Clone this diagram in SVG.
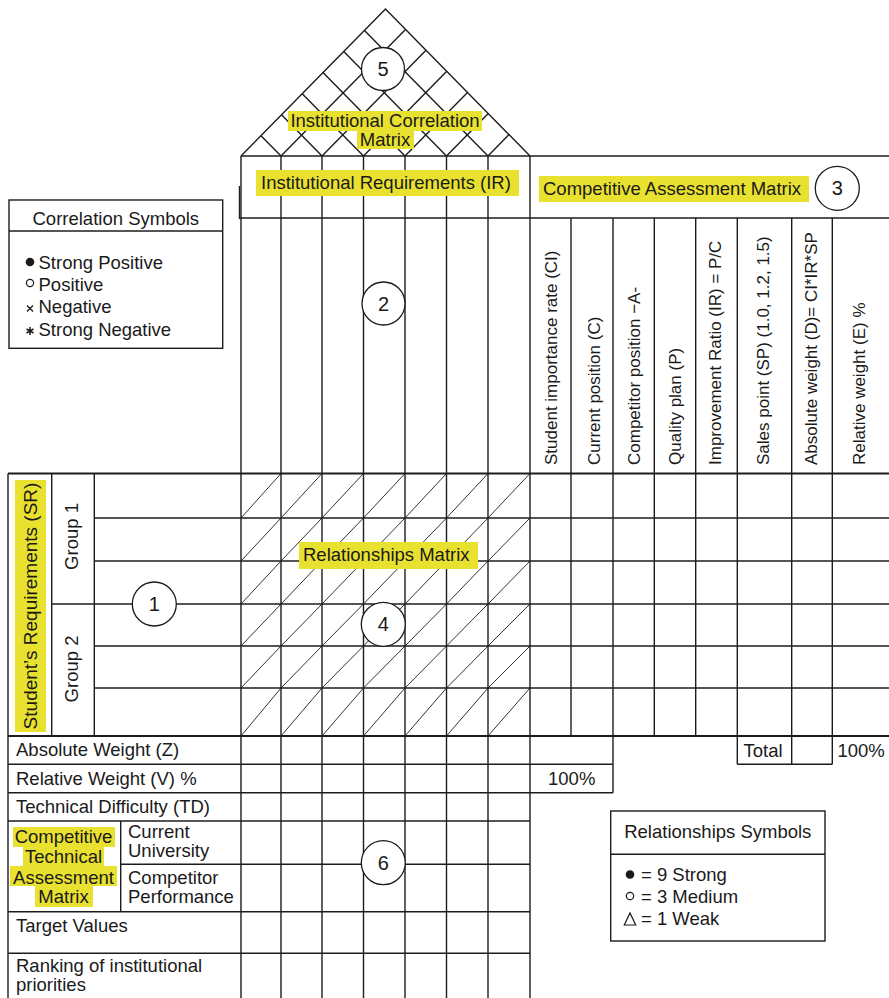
<svg xmlns="http://www.w3.org/2000/svg" width="889" height="998" viewBox="0 0 889 998">
  <style>
    .ln { stroke: #1c1c1c; stroke-width: 1.4; fill: none; }
    .bold { stroke: #1c1c1c; stroke-width: 1.8; fill: none; }
    .thin { stroke: #1c1c1c; stroke-width: 0.9; fill: none; }
    .t { font-family: "Liberation Sans", Arial, Helvetica, sans-serif; font-size: 18.5px; fill: #1a1a1a; }
    .tv { font-size: 17px; }
    .tm { text-anchor: middle; }
    .hl { fill: #E9E12F; }
    .badge circle { fill: #ffffff; stroke: #1c1c1c; stroke-width: 1.3; }
    .badge text { font-family: "Liberation Sans", Arial, Helvetica, sans-serif; font-size: 20px; fill: #1a1a1a; text-anchor: middle; }
  </style>

  <rect width="889" height="998" fill="#ffffff"/>

  <!-- Grid lines of the house -->
  <g id="grid">
    <!-- roof outline and lattice -->
    <path class="ln" d="M241,156 L385.5,9 L530,156"/>
    <g class="ln">
      <line x1="281" y1="156" x2="261" y2="135.7"/>
      <line x1="281" y1="156" x2="405.5" y2="29.4"/>
      <line x1="322" y1="156" x2="281.5" y2="114.8"/>
      <line x1="322" y1="156" x2="426" y2="50.2"/>
      <line x1="363.5" y1="156" x2="302.25" y2="93.7"/>
      <line x1="363.5" y1="156" x2="446.75" y2="71.3"/>
      <line x1="405" y1="156" x2="323" y2="72.6"/>
      <line x1="405" y1="156" x2="467.5" y2="92.4"/>
      <line x1="446.5" y1="156" x2="343.75" y2="51.5"/>
      <line x1="446.5" y1="156" x2="488.25" y2="113.5"/>
      <line x1="488" y1="156" x2="364.5" y2="30.4"/>
      <line x1="488" y1="156" x2="509" y2="134.6"/>
    </g>

    <!-- header band -->
    <line class="ln" x1="241" y1="156" x2="889" y2="156"/>
    <line class="ln" x1="239" y1="218" x2="889" y2="218"/>
    <line class="ln" x1="239.5" y1="186" x2="239.5" y2="219"/>

    <!-- technical requirement columns -->
    <g class="ln">
      <line x1="241" y1="156" x2="241" y2="998"/>
      <line x1="281" y1="156" x2="281" y2="998"/>
      <line x1="322" y1="156" x2="322" y2="998"/>
      <line x1="363.5" y1="156" x2="363.5" y2="998"/>
      <line x1="405" y1="156" x2="405" y2="998"/>
      <line x1="446.5" y1="156" x2="446.5" y2="998"/>
      <line x1="488" y1="156" x2="488" y2="998"/>
      <line x1="530" y1="156" x2="530" y2="998"/>
    </g>

    <!-- competitive assessment columns -->
    <g class="ln">
      <line x1="571" y1="218" x2="571" y2="736"/>
      <line x1="613" y1="218" x2="613" y2="792.7"/>
      <line x1="654.3" y1="218" x2="654.3" y2="736"/>
      <line x1="695.7" y1="218" x2="695.7" y2="736"/>
      <line x1="737.3" y1="218" x2="737.3" y2="764.3"/>
      <line x1="791.7" y1="218" x2="791.7" y2="764.3"/>
      <line x1="832.3" y1="218" x2="832.3" y2="764.3"/>
    </g>

    <!-- requirement rows -->
    <line class="bold" x1="8" y1="473.5" x2="889" y2="473.5"/>
    <g class="ln">
      <line x1="94.3" y1="518" x2="889" y2="518"/>
      <line x1="94.3" y1="561" x2="889" y2="561"/>
      <line x1="51.7" y1="604" x2="889" y2="604"/>
      <line x1="94.3" y1="646" x2="889" y2="646"/>
      <line x1="94.3" y1="688" x2="889" y2="688"/>
      <line x1="8" y1="473.5" x2="8" y2="998"/>
      <line x1="51.7" y1="473.5" x2="51.7" y2="736"/>
      <line x1="94.3" y1="473.5" x2="94.3" y2="736"/>
    </g>
    <line class="bold" x1="8" y1="736" x2="889" y2="736"/>

    <!-- lower rows -->
    <g class="ln">
      <line x1="8" y1="764.3" x2="613" y2="764.3"/>
      <line x1="737.3" y1="764.3" x2="832.3" y2="764.3"/>
      <line x1="8" y1="792.7" x2="613" y2="792.7"/>
      <line x1="8" y1="821" x2="530" y2="821"/>
      <line x1="120.7" y1="864.3" x2="530" y2="864.3"/>
      <line x1="120.7" y1="821" x2="120.7" y2="911.7"/>
      <line x1="8" y1="911.7" x2="530" y2="911.7"/>
      <line x1="8" y1="953.3" x2="530" y2="953.3"/>
    </g>
  </g>

  <!-- Relationships matrix cell diagonals -->
  <g id="relationships-matrix" class="thin">
    <path d="M241,518 L281,473.5 M281,518 L322,473.5 M322,518 L363.5,473.5 M363.5,518 L405,473.5 M405,518 L446.5,473.5 M446.5,518 L488,473.5 M488,518 L530,473.5"/>
    <path d="M241,561 L281,518 M281,561 L322,518 M322,561 L363.5,518 M363.5,561 L405,518 M405,561 L446.5,518 M446.5,561 L488,518 M488,561 L530,518"/>
    <path d="M241,604 L281,561 M281,604 L322,561 M322,604 L363.5,561 M363.5,604 L405,561 M405,604 L446.5,561 M446.5,604 L488,561 M488,604 L530,561"/>
    <path d="M241,646 L281,604 M281,646 L322,604 M322,646 L363.5,604 M363.5,646 L405,604 M405,646 L446.5,604 M446.5,646 L488,604 M488,646 L530,604"/>
    <path d="M241,688 L281,646 M281,688 L322,646 M322,688 L363.5,646 M363.5,688 L405,646 M405,688 L446.5,646 M446.5,688 L488,646 M488,688 L530,646"/>
    <path d="M241,736 L281,688 M281,736 L322,688 M322,736 L363.5,688 M363.5,736 L405,688 M405,736 L446.5,688 M446.5,736 L488,688 M488,736 L530,688"/>
  </g>

  <!-- Roof: institutional correlation matrix -->
  <g id="correlation-matrix">
    <rect class="hl" x="288" y="111" width="194" height="20"/>
    <rect class="hl" x="357" y="131" width="57" height="18"/>
    <text class="t tm" x="385" y="127">Institutional Correlation</text>
    <text class="t tm" x="385" y="146">Matrix</text>
  </g>

  <!-- Institutional requirements header -->
  <g id="institutional-requirements">
    <rect class="hl" x="256" y="170" width="263" height="26"/>
    <text class="t" x="261" y="188.5">Institutional Requirements (IR)</text>
  </g>

  <!-- Competitive assessment header and column titles -->
  <g id="competitive-assessment">
    <rect class="hl" x="539" y="176" width="270" height="26"/>
    <text class="t" x="543" y="194.5">Competitive Assessment Matrix</text>
    <g class="t tv">
      <text transform="translate(556.5,465) rotate(-90)">Student importance rate (CI)</text>
      <text transform="translate(600,465) rotate(-90)">Current position (C)</text>
      <text transform="translate(640,465) rotate(-90)">Competitor position −A-</text>
      <text transform="translate(680.5,465) rotate(-90)">Quality plan (P)</text>
      <text transform="translate(721,465) rotate(-90)">Improvement Ratio (IR) = P/C</text>
      <text transform="translate(768.5,465) rotate(-90)">Sales point (SP) (1.0, 1.2, 1.5)</text>
      <text transform="translate(817,465) rotate(-90)">Absolute weight (D)= CI*IR*SP</text>
      <text transform="translate(865,465) rotate(-90)">Relative weight (E) %</text>
    </g>
    <text class="t" x="743.5" y="756.5">Total</text>
    <text class="t" x="837.5" y="756.5">100%</text>
    <text class="t tm" x="571.7" y="785">100%</text>
  </g>

  <!-- Correlation symbols legend -->
  <g id="correlation-legend">
    <rect class="ln" x="9" y="200" width="213.7" height="148.3" fill="#ffffff"/>
    <line class="ln" x1="9" y1="231" x2="222.7" y2="231"/>
    <text class="t tm" x="115.8" y="225">Correlation Symbols</text>
    <circle cx="30" cy="262" r="4.3" fill="#1a1a1a"/>
    <circle cx="30" cy="283" r="3.6" fill="none" stroke="#1a1a1a" stroke-width="1.2"/>
    <path d="M27,305.5 L33,311.5 M33,305.5 L27,311.5" stroke="#1a1a1a" stroke-width="1.3"/>
    <path d="M30,327 L30,335 M26.5,329 L33.5,333 M33.5,329 L26.5,333" stroke="#1a1a1a" stroke-width="1.5"/>
    <text class="t" x="38.5" y="269">Strong Positive</text>
    <text class="t" x="38.5" y="291">Positive</text>
    <text class="t" x="38.5" y="313">Negative</text>
    <text class="t" x="38.5" y="336">Strong Negative</text>
  </g>

  <!-- Student requirements -->
  <g id="student-requirements">
    <rect class="hl" x="15" y="480" width="31" height="252"/>
    <text class="t tm" style="font-size:19px" transform="translate(36.5,606) rotate(-90)">Student’s Requirements (SR)</text>
    <text class="t tm" transform="translate(78,536.5) rotate(-90)">Group 1</text>
    <text class="t tm" transform="translate(78,669) rotate(-90)">Group 2</text>
  </g>

  <!-- Relationships matrix title -->
  <g id="relationships-title">
    <rect class="hl" x="299" y="542" width="179" height="27"/>
    <text class="t" x="303" y="560.5">Relationships Matrix</text>
  </g>

  <!-- Lower rows -->
  <g id="technical-rows">
    <text class="t" x="16" y="756">Absolute Weight (Z)</text>
    <text class="t" x="16" y="784.5">Relative Weight (V) %</text>
    <text class="t" x="16" y="813">Technical Difficulty (TD)</text>
    <rect class="hl" x="13" y="827" width="102" height="20"/>
    <rect class="hl" x="23" y="847" width="81" height="19"/>
    <rect class="hl" x="10" y="866" width="107" height="20"/>
    <rect class="hl" x="35" y="886" width="58" height="21"/>
    <text class="t tm" x="63.5" y="843">Competitive</text>
    <text class="t tm" x="63.5" y="863">Technical</text>
    <text class="t tm" x="63.5" y="883.5">Assessment</text>
    <text class="t tm" x="63.5" y="903">Matrix</text>
    <text class="t" x="128" y="838">Current</text>
    <text class="t" x="128" y="857">University</text>
    <text class="t" x="128" y="884">Competitor</text>
    <text class="t" x="128" y="903">Performance</text>
    <text class="t" x="16" y="931.5">Target Values</text>
    <text class="t" x="16" y="971.5">Ranking of institutional</text>
    <text class="t" x="16" y="990.5">priorities</text>
  </g>

  <!-- Relationship symbols legend -->
  <g id="relationship-legend">
    <rect class="ln" x="610.7" y="811" width="214.3" height="130" fill="#ffffff"/>
    <line class="ln" x1="610.7" y1="854.3" x2="825" y2="854.3"/>
    <text class="t tm" x="717.8" y="838.3">Relationships Symbols</text>
    <circle cx="630" cy="874.5" r="4.3" fill="#1a1a1a"/>
    <circle cx="630" cy="896" r="3.7" fill="none" stroke="#1a1a1a" stroke-width="1.2"/>
    <path d="M624.3,925 L635.7,925 L630,913 Z" fill="none" stroke="#1a1a1a" stroke-width="1.2"/>
    <text class="t" x="641" y="880.5">= 9 Strong</text>
    <text class="t" x="641" y="902.5">= 3 Medium</text>
    <text class="t" x="641" y="924.5">= 1 Weak</text>
  </g>

  <!-- Numbered section badges -->
  <g id="badge-1" class="badge"><circle cx="154.3" cy="604" r="22"/><text x="154.3" y="611">1</text></g>
  <g id="badge-2" class="badge"><circle cx="383.5" cy="303.5" r="21.5"/><text x="383.5" y="310.5">2</text></g>
  <g id="badge-3" class="badge"><circle cx="837.3" cy="188.3" r="22"/><text x="837.3" y="195.3">3</text></g>
  <g id="badge-4" class="badge"><circle cx="383.3" cy="624.3" r="22"/><text x="383.3" y="631.3">4</text></g>
  <g id="badge-5" class="badge"><circle cx="383" cy="69" r="21.5"/><text x="383" y="76">5</text></g>
  <g id="badge-6" class="badge"><circle cx="383.3" cy="862.7" r="22"/><text x="383.3" y="869.7">6</text></g>
</svg>
